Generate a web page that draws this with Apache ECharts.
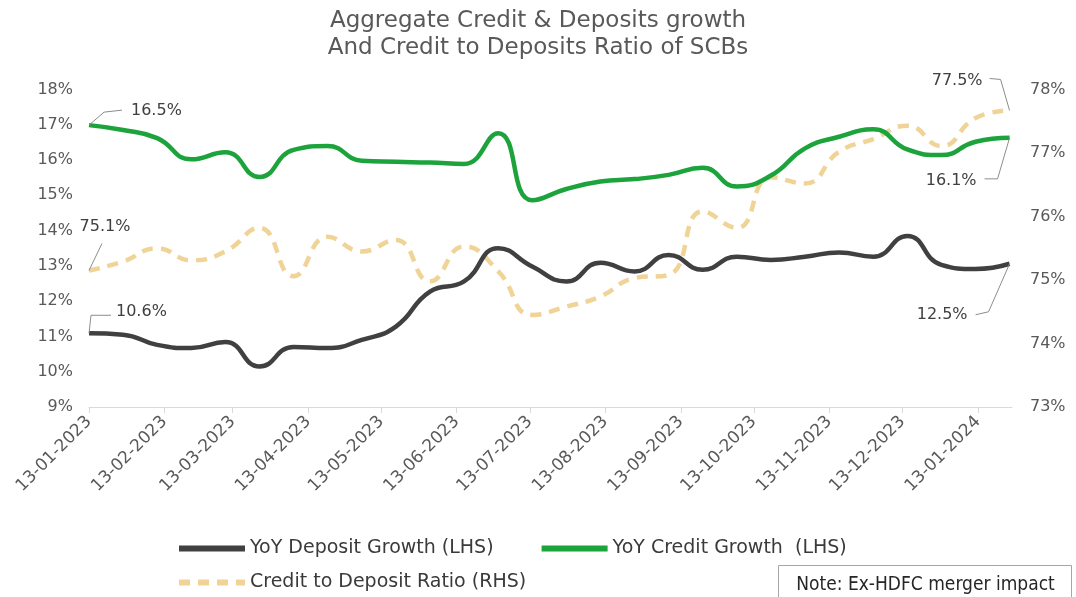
<!DOCTYPE html>
<html>
<head>
<meta charset="utf-8">
<script src="https://cdn.jsdelivr.net/npm/echarts@6/dist/echarts.min.js"></script>
<style>
  html, body { margin: 0; padding: 0; background: #fff; }
  #box { width: 1076px; height: 597px; }
</style>
</head>
<body>
<div id="box"></div>
<script>
// fortnightly reporting dates
const dates = [
  '2023-01-13', '2023-01-27', '2023-02-10', '2023-02-24', '2023-03-10', '2023-03-24',
  '2023-04-07', '2023-04-21', '2023-05-05', '2023-05-19', '2023-06-02', '2023-06-16',
  '2023-06-30', '2023-07-14', '2023-07-28', '2023-08-11', '2023-08-25', '2023-09-08',
  '2023-09-22', '2023-10-06', '2023-10-20', '2023-11-03', '2023-11-17', '2023-12-01',
  '2023-12-15', '2023-12-29', '2024-01-12', '2024-01-26'
]
// YoY deposit growth, % (LHS)
const depositGrowth = [
  11.09, 11.05, 10.76, 10.67, 10.84, 10.15, 10.70, 10.67, 10.90, 11.28, 12.27, 12.56,
  13.50, 12.98, 12.56, 13.09, 12.84, 13.31, 12.89, 13.26, 13.17, 13.26, 13.38, 13.26,
  13.85, 13.03, 12.91, 13.06
]
// YoY credit growth, % (LHS)
const creditGrowth = [
  16.99, 16.85, 16.62, 16.02, 16.22, 15.52, 16.29, 16.40, 15.98, 15.95, 15.93, 15.89,
  16.76, 14.86, 15.18, 15.39, 15.46, 15.58, 15.78, 15.25, 15.56, 16.33, 16.66, 16.87,
  16.30, 16.14, 16.52, 16.63
]
// credit to deposit ratio, % (RHS)
const cdRatio = [
  75.15, 75.29, 75.50, 75.31, 75.45, 75.82, 75.06, 75.68, 75.45, 75.63, 74.98, 75.53,
  75.14, 74.45, 74.58, 74.74, 75.03, 75.08, 76.08, 75.82, 76.62, 76.52, 77.02, 77.22,
  77.43, 77.11, 77.55, 77.67
]
// x axis tick dates
const tickDates = [
  '2023-01-13', '2023-02-13', '2023-03-13', '2023-04-13', '2023-05-13', '2023-06-13',
  '2023-07-13', '2023-08-13', '2023-09-13', '2023-10-13', '2023-11-13', '2023-12-13',
  '2024-01-13'
]
const seriesNames = ['YoY Deposit Growth (LHS)', 'YoY Credit Growth  (LHS)', 'Credit to Deposit Ratio (RHS)']
// callouts: text shown on the chart next to first / last points
const callouts = [
  { series: 1, index: 0, text: '16.5%' },
  { series: 2, index: 0, text: '75.1%' },
  { series: 0, index: 0, text: '10.6%' },
  { series: 2, index: 27, text: '77.5%' },
  { series: 1, index: 27, text: '16.1%' },
  { series: 0, index: 27, text: '12.5%' }
]

const DAY = 86400000
const t0 = Date.UTC(2023, 0, 13)
// date string -> days since 13-01-2023
function toDay(s) {
  const p = s.split('-')
  return Math.round((Date.UTC(+p[0], +p[1] - 1, +p[2]) - t0) / DAY)
}
function pad(n) { return (n < 10 ? '0' : '') + n }
function pairs(arr) { return arr.map((v, i) => [toDay(dates[i]), v]) }

const tickDays = tickDates.map(toDay)
const txtColor = '#595959'
const font = 'DejaVu Sans'
const legendText = { fontFamily: 'DejaVu Sans', fontSize: 19, color: '#3a3a3a' }

const myChart = echarts.init(document.getElementById('box'))
const option = {
  animation: false,
  title: {
    text: 'Aggregate Credit & Deposits growth\nAnd Credit to Deposits Ratio of SCBs',
    left: 'center',
    top: 3,
    textStyle: { fontFamily: font, fontSize: 23, fontWeight: 'normal', color: txtColor, lineHeight: 27 }
  },
  legend: [
    {
      data: [seriesNames[0], seriesNames[1]],
      left: 171, top: 534,
      itemWidth: 66, itemHeight: 12, itemGap: 45,
      itemStyle: { opacity: 0 },
      lineStyle: { width: 6 },
      textStyle: legendText
    },
    {
      data: [seriesNames[2]],
      left: 171, top: 568,
      itemWidth: 66, itemHeight: 12,
      itemStyle: { opacity: 0 },
      lineStyle: { width: 6 },
      textStyle: legendText
    }
  ],
  grid: { left: 89, right: 64, top: 89.5, bottom: 190, containLabel: false },
  xAxis: {
    type: 'value',
    min: 0,
    max: toDay('2024-01-27'),
    axisLine: { show: true, lineStyle: { color: '#d9d9d9', width: 1 } },
    axisTick: { show: true, customValues: tickDays, length: 6, lineStyle: { color: '#d9d9d9' } },
    splitLine: { show: false },
    axisLabel: {
      customValues: tickDays,
      rotate: 45,
      margin: 12,
      color: txtColor,
      fontFamily: font,
      fontSize: 17,
      formatter: function (v) {
        const d = new Date(t0 + v * DAY)
        return pad(d.getUTCDate()) + '-' + pad(d.getUTCMonth() + 1) + '-' + d.getUTCFullYear()
      }
    }
  },
  yAxis: [
    {
      type: 'value', min: 9, max: 18, interval: 1,
      axisLine: { show: false }, axisTick: { show: false }, splitLine: { show: false },
      axisLabel: { formatter: '{value}%', color: txtColor, fontFamily: font, fontSize: 16, margin: 16 }
    },
    {
      type: 'value', min: 73, max: 78, interval: 1,
      axisLine: { show: false }, axisTick: { show: false }, splitLine: { show: false },
      axisLabel: { formatter: '{value}%', color: txtColor, fontFamily: font, fontSize: 16, margin: 18 }
    }
  ],
  series: [
    {
      name: seriesNames[0], type: 'line', yAxisIndex: 0, smooth: 0.5,
      symbol: 'none', data: pairs(depositGrowth),
      lineStyle: { color: '#404040', width: 4.5 }, itemStyle: { color: '#404040' }, z: 3
    },
    {
      name: seriesNames[1], type: 'line', yAxisIndex: 0, smooth: 0.5,
      symbol: 'none', data: pairs(creditGrowth),
      lineStyle: { color: '#1ca33c', width: 4.5 }, itemStyle: { color: '#1ca33c' }, z: 3
    },
    {
      name: seriesNames[2], type: 'line', yAxisIndex: 1, smooth: 0.5,
      symbol: 'none', data: pairs(cdRatio),
      lineStyle: { color: '#f0d396', width: 4.5, type: [11, 8] }, itemStyle: { color: '#f0d396' }, z: 2
    }
  ]
}
myChart.setOption(option)

// leader lines + callout texts, offsets relative to the data point pixel
const offsets = [
  { pts: [[0, 0], [15, -13], [33, -15]], tx: 42, ty: -14, align: 'left' },
  { pts: [[0, 0], [13, -27]], tx: 16, ty: -44, align: 'center' },
  { pts: [[0, 0], [2, -18], [22, -18]], tx: 27, ty: -21, align: 'left' },
  { pts: [[0, 0], [-9, -31], [-20, -32]], tx: -27, ty: -30, align: 'right' },
  { pts: [[0, 0], [-12, 41], [-25, 41]], tx: -33, ty: 43, align: 'right' },
  { pts: [[0, 0], [-21, 48], [-34, 51]], tx: -42, ty: 51, align: 'right' }
]
const source = [depositGrowth, creditGrowth, cdRatio]
const gfx = []
callouts.forEach((c, k) => {
  const p = myChart.convertToPixel({ seriesIndex: c.series }, [toDay(dates[c.index]), source[c.series][c.index]])
  const o = offsets[k]
  gfx.push({
    type: 'polyline', silent: true,
    shape: { points: o.pts.map(q => [p[0] + q[0], p[1] + q[1]]) },
    style: { stroke: '#8c8c8c', lineWidth: 1, fill: null }, z: 10
  })
  gfx.push({
    type: 'text', silent: true, x: p[0] + o.tx, y: p[1] + o.ty,
    style: { text: c.text, fontFamily: font, fontSize: 16, fill: '#404040', align: o.align, verticalAlign: 'middle' },
    z: 10
  })
})
// note box
gfx.push({
  type: 'group', left: 778, top: 565,
  children: [
    { type: 'rect', shape: { x: 0, y: 0, width: 293, height: 40 }, style: { fill: '#fff', stroke: '#a6a6a6', lineWidth: 1 } },
    { type: 'text', x: 147, y: 20, style: { text: 'Note: Ex-HDFC merger impact', fontFamily: 'DejaVu Sans Condensed', fontSize: 19, fill: '#262626', align: 'center', verticalAlign: 'middle' } }
  ]
})
myChart.setOption({ graphic: gfx })

window.onresize = function () {
  myChart.resize()
}
</script>
</body>
</html>
